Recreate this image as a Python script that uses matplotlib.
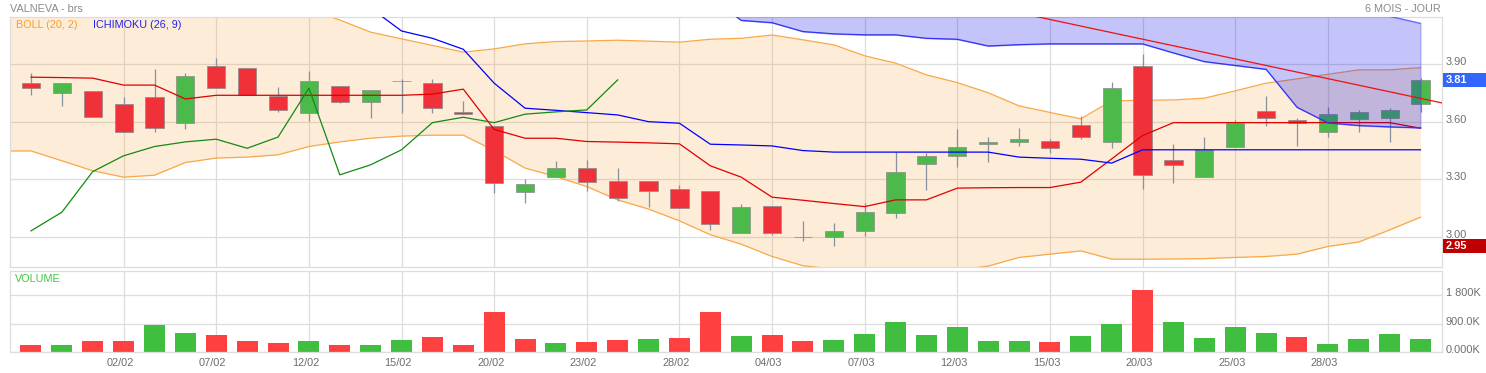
import numpy as np
import matplotlib.pyplot as plt
from matplotlib import transforms
from matplotlib.patches import Rectangle

plt.rcParams['font.family'] = ['Liberation Sans', 'DejaVu Sans']

# ---------------------------------------------------------------------------
# Data
# ---------------------------------------------------------------------------

DATE_POS = [3, 6, 9, 12, 15, 18, 21, 24, 27, 30, 33, 36, 39, 42]
DATE_LABELS = ["02/02", "07/02", "12/02", "15/02", "20/02", "23/02", "28/02",
               "04/03", "07/03", "12/03", "15/03", "20/03", "25/03", "28/03"]

OPEN = [3.80, 3.748, 3.76, 3.691, 3.73, 3.595, 3.89, 3.878, 3.735, 3.647,
        3.784, 3.701, 3.813, 3.80, 3.649, 3.578, 3.237, 3.315, 3.359, 3.293,
        3.293, 3.25, 3.241, 3.021, 3.163, 3.0, 3.0, 3.030, 3.128, 3.379,
        3.424, 3.485, 3.497, 3.50, 3.583, 3.497, 3.89, 3.402, 3.315, 3.466,
        3.656, 3.609, 3.544, 3.613, 3.618, 3.691]
HIGH = [3.852, 3.80, 3.76, 3.73, 3.874, 3.852, 3.93, 3.878, 3.779, 3.864,
        3.784, 3.765, 3.822, 3.822, 3.708, 3.578, 3.30, 3.397, 3.40, 3.359,
        3.293, 3.272, 3.241, 3.173, 3.163, 3.082, 3.076, 3.18, 3.442, 3.437,
        3.563, 3.52, 3.566, 3.51, 3.63, 3.808, 3.952, 3.485, 3.518, 3.61,
        3.734, 3.62, 3.678, 3.66, 3.67, 3.826]
LOW = [3.739, 3.682, 3.623, 3.546, 3.549, 3.561, 3.774, 3.739, 3.652, 3.606,
       3.696, 3.618, 3.644, 3.644, 3.639, 3.232, 3.177, 3.315, 3.242, 3.189,
       3.159, 3.154, 3.035, 3.021, 3.012, 2.983, 2.952, 3.004, 3.102, 3.246,
       3.367, 3.39, 3.476, 3.437, 3.51, 3.463, 3.25, 3.281, 3.315, 3.466,
       3.58, 3.476, 3.523, 3.549, 3.492, 3.652]
CLOSE = [3.774, 3.80, 3.623, 3.546, 3.566, 3.839, 3.774, 3.739, 3.661, 3.812,
         3.701, 3.765, 3.813, 3.670, 3.639, 3.281, 3.277, 3.359, 3.289, 3.206,
         3.242, 3.154, 3.068, 3.156, 3.024, 3.0, 3.033, 3.13, 3.34, 3.423,
         3.47, 3.495, 3.509, 3.462, 3.52, 3.774, 3.324, 3.374, 3.452, 3.595,
         3.62, 3.593, 3.64, 3.65, 3.661, 3.817]

VOLUME_K = [236, 236, 341, 360, 857, 599, 537, 360, 289, 360,
            227, 236, 391, 484, 227, 1260, 413, 279, 329, 391,
            422, 453, 1260, 515, 546, 341, 372, 568, 950, 537,
            807, 351, 351, 310, 515, 878, 1943, 962, 444, 785,
            599, 475, 267, 413, 568, 413]
VOLUME_UP = [0, 1, 0, 0, 1, 1, 0, 0, 0, 1, 0, 1, 1, 0, 0, 0, 0, 1, 0, 0,
             1, 0, 0, 1, 0, 0, 1, 1, 1, 1, 1, 1, 1, 0, 1, 1, 0, 1, 1, 1,
             1, 0, 1, 1, 1, 1]

# Bollinger (20, 2) bands, starting one session before the first candle
BOLL_X = list(range(-1, 46))
BOLL_UPPER = [4.30, 4.28, 4.27, 4.26, 4.25, 4.24, 4.23, 4.21, 4.20, 4.19,
              4.183, 4.128, 4.065, 4.03, 3.996, 3.961, 3.978, 4.004, 4.016, 4.019,
              4.023, 4.018, 4.013, 4.028, 4.033, 4.05, 4.025, 3.999, 3.942, 3.904,
              3.843, 3.803, 3.75, 3.682, 3.648, 3.615, 3.708, 3.711, 3.713, 3.722,
              3.76, 3.80, 3.822, 3.846, 3.869, 3.869, 3.881]
BOLL_LOWER = [3.448, 3.448, 3.397, 3.345, 3.312, 3.322, 3.388, 3.411, 3.416, 3.428,
              3.471, 3.495, 3.514, 3.525, 3.530, 3.530, 3.45, 3.359, 3.315, 3.263,
              3.194, 3.146, 3.085, 3.013, 2.964, 2.90, 2.852, 2.835, 2.82, 2.81,
              2.815, 2.83, 2.85, 2.895, 2.912, 2.929, 2.886, 2.886, 2.887, 2.889,
              2.895, 2.90, 2.912, 2.952, 2.975, 3.038, 3.104]

# Ichimoku (26, 9)
TENKAN = [3.831, 3.829, 3.826, 3.79, 3.79, 3.718, 3.737, 3.737, 3.737, 3.737,
          3.737, 3.737, 3.737, 3.743, 3.769, 3.56, 3.514, 3.514, 3.497, 3.494,
          3.49, 3.485, 3.371, 3.312, 3.208, 3.192, 3.175, 3.159, 3.194, 3.194,
          3.255, 3.257, 3.258, 3.258, 3.286, 3.407, 3.528, 3.595, 3.595, 3.595,
          3.595, 3.595, 3.595, 3.595, 3.595, 3.566]
KIJUN = [np.nan] * 11 + [
          4.19, 4.071, 4.033, 3.976, 3.80, 3.67, 3.659, 3.647, 3.635,
          3.60, 3.592, 3.483, 3.479, 3.474, 3.45, 3.442, 3.442, 3.442, 3.442,
          3.442, 3.442, 3.416, 3.41, 3.405, 3.385, 3.454, 3.454, 3.454, 3.454,
          3.454, 3.454, 3.454, 3.454, 3.454, 3.454]
CHIKOU = [3.033, 3.13, 3.341, 3.423, 3.471, 3.495, 3.509, 3.462, 3.52, 3.774,
          3.324, 3.376, 3.454, 3.595, 3.623, 3.595, 3.639, 3.651, 3.661, 3.817]
CLOUD_X = list(range(22, 46))
SENKOU_A = [4.25, 4.126, 4.114, 4.068, 4.056, 4.051, 4.051, 4.033, 4.028, 3.993,
            4.0, 4.004, 4.004, 4.004, 4.004, 3.957, 3.912, 3.892, 3.872, 3.675,
            3.594, 3.58, 3.573, 3.568]
SENKOU_B = [4.30] * 22 + [4.148, 4.111]

# Trend line
TREND_X = [30, 46]
TREND_Y = [4.233, 3.687]

LAST_LABEL = "3.81"
LOW_LABEL = "2.95"

PRICE_TICKS = [3.00, 3.30, 3.60, 3.90]
VOL_TICKS = [0, 900e3, 1800e3]
VOL_LABELS = ["0.000K", "900.0K", "1 800K"]

# ---------------------------------------------------------------------------
# Plot
# ---------------------------------------------------------------------------

W, H = 1486, 373
fig = plt.figure(figsize=(W / 100, H / 100), dpi=100)
fig.patch.set_facecolor("white")

ax = fig.add_axes([10 / W, (H - 266.5) / H, 1431.5 / W, 249.2 / H])
axv = fig.add_axes([10 / W, (H - 352.3) / H, 1431.5 / W, 81.6 / H])

GRID = "#dddddd"
TXT = "#6e6e6e"
UP_C, DN_C = "#4cba4a", "#f0313a"

x = np.arange(len(CLOSE))
o, c = np.array(OPEN), np.array(CLOSE)
up = c >= o

for a in (ax, axv):
    a.set_xlim(-0.68, 45.68)
    a.set_xticks(DATE_POS)
    a.grid(True, color=GRID, linewidth=0.9)
    a.set_axisbelow(True)
    a.tick_params(length=0, labelleft=False, labelbottom=False)
    for s in a.spines.values():
        s.set_color(GRID)
        s.set_linewidth(0.9)

ax.set_ylim(2.848, 4.142)
ax.set_yticks(PRICE_TICKS)
axv.set_ylim(0, 2563e3)
axv.set_yticks(VOL_TICKS)

# Bollinger
ax.fill_between(BOLL_X, BOLL_LOWER, BOLL_UPPER, color="#f8a040", alpha=0.2,
                linewidth=0, zorder=1)
ax.plot(BOLL_X, BOLL_UPPER, color="#f8a848", lw=0.9, zorder=2)
ax.plot(BOLL_X, BOLL_LOWER, color="#f8a848", lw=0.9, zorder=2)

# Candles
ax.vlines(x, LOW, HIGH, color="#8592a0", lw=0.9, zorder=3)
ax.bar(x, np.abs(c - o), bottom=np.minimum(o, c), width=0.59,
       color=np.where(up, UP_C, DN_C), edgecolor="#8a8a8a", linewidth=0.5,
       zorder=4)

# Ichimoku lines
ax.plot(x, TENKAN, color="#e00000", lw=0.9, zorder=5)
ax.plot(x, KIJUN, color="#0000ff", lw=0.9, zorder=5)
ax.plot(x[:len(CHIKOU)], CHIKOU, color="#138a13", lw=0.9, zorder=5)

# Cloud
ax.fill_between(CLOUD_X, SENKOU_A, SENKOU_B, facecolor=(0.0, 0.0, 0.93, 0.23),
                edgecolor=(0.2, 0.2, 0.95, 0.35), linewidth=0.8, zorder=6)
ax.plot(CLOUD_X, SENKOU_A, color="#3434f0", lw=0.9, zorder=6)
ax.plot(CLOUD_X, SENKOU_B, color="#3434f0", lw=0.9, alpha=0.6, zorder=6)

# Trend line
ax.plot(TREND_X, TREND_Y, color="#ee1010", lw=0.9, zorder=7)

# Volume
axv.bar(x, np.array(VOLUME_K) * 1e3, width=0.68,
        color=np.where(np.array(VOLUME_UP) == 1, "#40be40", "#ff4040"),
        linewidth=0, zorder=2)

# Right-side labels
lift = transforms.ScaledTranslation(0, 2 / 100, fig.dpi_scale_trans)
lab_x = (1446 - 10) / 1431.5
tr = transforms.blended_transform_factory(ax.transAxes, ax.transData)
for p in PRICE_TICKS:
    ax.text(lab_x, p, f"{p:.2f}", transform=tr + lift, ha="left", va="center",
            fontsize=7.9, color=TXT, clip_on=False)
trv = transforms.blended_transform_factory(axv.transAxes, axv.transData)
clip_box = transforms.TransformedBbox(
    transforms.Bbox([[0, (H - 352.5) / H], [1, 1]]), fig.transFigure)
for v, s in zip(VOL_TICKS, VOL_LABELS):
    t = axv.text(lab_x, v, s, transform=trv + lift, ha="left", va="center",
                 fontsize=7.9, color=TXT)
    t.set_clip_on(True)
    t.set_clip_box(clip_box)

# Price boxes
box_h = 14 * (4.142 - 2.848) / 249.2
box_x0 = (1443 - 10) / 1431.5
box_w = (1486 - 1443) / 1431.5
for val, txt, col in [(CLOSE[-1], LAST_LABEL, "#3366ff"),
                      (min(LOW), LOW_LABEL, "#c00000")]:
    ax.add_patch(Rectangle((box_x0, val - box_h / 2), box_w, box_h,
                           transform=tr, facecolor=col, edgecolor="none",
                           clip_on=False, zorder=8))
    ax.text(lab_x, val, txt, transform=tr, ha="left", va="center",
            fontsize=7.9, color="white", fontweight="bold", clip_on=False,
            zorder=9)

# Date labels
shift = transforms.ScaledTranslation(-3.5 / 100, 0, fig.dpi_scale_trans)
trx = transforms.blended_transform_factory(axv.transData, fig.transFigure)
for pos, lab in zip(DATE_POS, DATE_LABELS):
    fig.text(pos, (H - 363) / H, lab, transform=trx + shift, ha="center",
             va="center", fontsize=7.9, color=TXT)

# Titles / legends
fig.text(10 / W, 1 - 9 / H, "VALNEVA - brs", ha="left", va="center",
         fontsize=7.8, color="#8a8a8a")
fig.text(1441 / W, 1 - 9 / H, "6 MOIS - JOUR", ha="right", va="center",
         fontsize=7.8, color="#8a8a8a")
fig.text(16 / W, 1 - 25 / H, "BOLL (20, 2)", ha="left", va="center",
         fontsize=7.8, color="#f5a030")
fig.text(93 / W, 1 - 25 / H, "ICHIMOKU (26, 9)", ha="left", va="center",
         fontsize=7.8, color="#2222ee")
fig.text(15 / W, 1 - 279 / H, "VOLUME", ha="left", va="center",
         fontsize=7.8, color="#44c444")

fig.savefig("out.png", dpi=100)
